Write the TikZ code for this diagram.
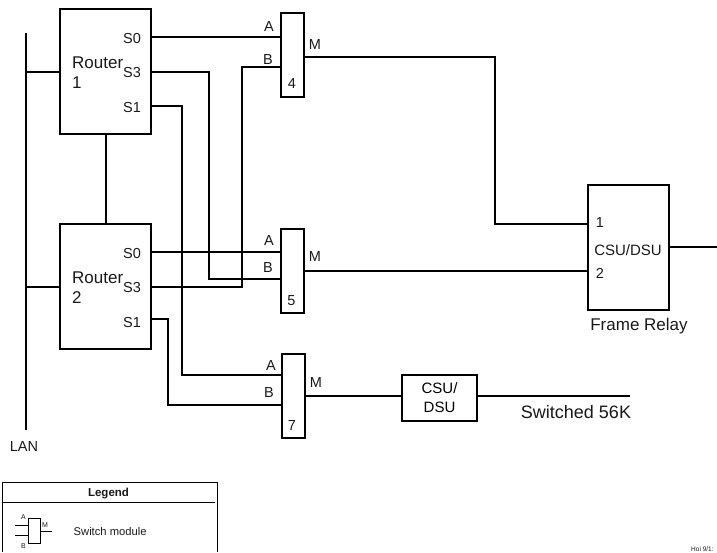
\documentclass[tikz,border=0pt]{standalone}
\usepackage{fontspec}
\setmainfont{Liberation Sans}
\usepackage{tikz}
\usetikzlibrary{positioning}

\begin{document}
\begin{tikzpicture}[
    x=1pt, y=-1pt,
    router/.style={rectangle, draw=black, line width=2pt, outer sep=0pt, minimum width=91pt, minimum height=125pt},
    switchbox/.style={rectangle, draw=black, line width=2pt, outer sep=0pt, minimum width=23pt, minimum height=84pt},
    csubig/.style={rectangle, draw=black, line width=2pt, outer sep=0pt, minimum width=81pt, minimum height=125pt},
    csusmall/.style={rectangle, draw=black, line width=2pt, outer sep=0pt, minimum width=75pt, minimum height=46pt, align=center, inner sep=0pt, font=\fontsize{15}{19}\selectfont},
    wire/.style={line width=2pt, draw=black},
    thinwire/.style={line width=1pt, draw=black},
    port/.style={inner sep=0pt, font=\fontsize{14.5}{17}\selectfont, text=black!90},
    title/.style={inner sep=0pt, font=\fontsize{17}{20}\selectfont, text=black!90, align=left},
    note/.style={inner sep=0pt, font=\fontsize{11.2}{13}\selectfont, text=black!90},
    tiny/.style={inner sep=0pt, font=\fontsize{7}{8}\selectfont, text=black!90},
  ]
  \useasboundingbox (0,0) rectangle (717,552);

  % Routers
  \node[router] (router1) at (105.5,71.5) {};
  \node[router, below=90pt of router1] (router2) {};
  \node[title, anchor=west] (router1txt) at (72,73) {Router\\1};
  \node[title, anchor=west] (router2txt) at (72,288) {Router\\2};

  % Switch modules
  \node[switchbox] (switch4) at (292.5,55) {};
  \node[switchbox, below=132pt of switch4] (switch5) {};
  \node[switchbox, below=41pt of switch5, xshift=1pt] (switch7) {};

  % CSU/DSU units
  \node[csubig] (csu1) at (628.5,247.5) {};
  \node[csusmall] (csu2) at (439.5,398) {CSU/\\DSU};

  % Router ports
  \node[port] (r1s0txt) at (132,39) {S0};
  \node[port] (r1s3txt) at (132,73) {S3};
  \node[port] (r1s1txt) at (132,108) {S1};
  \node[port] (r2s0txt) at (132,254) {S0};
  \node[port] (r2s3txt) at (132,288) {S3};
  \node[port] (r2s1txt) at (132,323) {S1};

  % Switch ports
  \node[port] (a4) at (269,27) {A};
  \node[port] (b4) at (268,60) {B};
  \node[port] (m4) at (315,45) {M};
  \node[port] (n4) at (292,84) {4};
  \node[port] (a5) at (269,241) {A};
  \node[port] (b5) at (268,268) {B};
  \node[port] (m5) at (315,257) {M};
  \node[port] (n5) at (291.5,301) {5};
  \node[port] (a7) at (271,366) {A};
  \node[port] (b7) at (269,393) {B};
  \node[port] (m7) at (316,383) {M};
  \node[port] (n7) at (292,426) {7};

  % Labels
  \node[port] (csu1a) at (600,223) {1};
  \node[port] (csu1b) at (600,273) {2};
  \node[port, font=\fontsize{15}{17}\selectfont] (csu1txt) at (628,250) {CSU/DSU};
  \node[title] (frame) at (639,326) {Frame Relay};
  \node[title, font=\fontsize{18}{20}\selectfont] (sw56) at (576,412) {Switched 56K};
  \node[port] (lan) at (24,447) {LAN};

  % Free ends
  \coordinate (lantop) at (25.7,33);
  \coordinate (lanend) at (25.7,430);
  \coordinate (r1s0) at (router1.east |- 0,37);
  \coordinate (r1s3) at (router1.east |- 0,72);
  \coordinate (r1s1) at (router1.east |- 0,106);
  \coordinate (r2s0) at (router2.east |- 0,252);
  \coordinate (r2s3) at (router2.east |- 0,287);
  \coordinate (r2s1) at (router2.east |- 0,319);
  \coordinate (bus1) at (182,0);
  \coordinate (bus2) at (168,0);
  \coordinate (bus3) at (209,0);
  \coordinate (bus4) at (242,0);
  \coordinate (bus5) at (495,0);
  \coordinate (s4a) at (switch4.west |- 0,37);
  \coordinate (s4b) at (switch4.west |- 0,67);
  \coordinate (s4m) at (switch4.east |- 0,57);
  \coordinate (s5a) at (switch5.west |- 0,252);
  \coordinate (s5b) at (switch5.west |- 0,279);
  \coordinate (s5m) at (switch5.east |- 0,271);
  \coordinate (s7a) at (switch7.west |- 0,375);
  \coordinate (s7b) at (switch7.west |- 0,405);
  \coordinate (c1a) at (csu1.west |- 0,224);
  \coordinate (c1b) at (csu1.west |- 0,271);
  \coordinate (c1out) at (717,247);
  \coordinate (c2in) at (csu2.west |- 0,396);
  \coordinate (c2mid) at (csu2.east |- 0,396);
  \coordinate (c2out) at (630,396);

  % LAN
  \draw[wire] (lantop) -- (lanend);
  \draw[wire] (lantop |- router1.west) -- (router1.west);
  \draw[wire] (lanend |- router2.west) -- (router2.west);
  \draw[wire] (router1) -- (router2);

  % Router to switch
  \draw[wire] (r1s0) -- (s4a);
  \draw[wire] (r1s3) -| (bus3 |- s5b) -- (s5b);
  \draw[wire] (r1s1) -| (bus1 |- s7a) -- (s7a);
  \draw[wire] (r2s0) -- (s5a);
  \draw[wire] (r2s3) -| (bus4 |- s4b) -- (s4b);
  \draw[wire] (r2s1) -| (bus2 |- s7b) -- (s7b);

  % Switch to CSU/DSU
  \draw[wire] (s4m) -| (bus5 |- c1a) -- (c1a);
  \draw[wire] (s5m) -- (c1b);
  \draw[wire] (switch7.east |- c2in) -- (c2in);
  \draw[wire] (c2mid) -- (c2out);
  \draw[wire] (csu1.east |- c1out) -- (c1out);

  % Legend
  \coordinate (legtl) at (2,482);
  \coordinate (legtr) at (217,482);
  \coordinate (legbl) at (2,552);
  \coordinate (legbr) at (217,552);
  \coordinate (legml) at (2,502);
  \coordinate (legmr) at (215,502);
  \draw[thinwire] (legbl) -- (legtl) -- (legtr) -- (legbr);
  \draw[thinwire] (legml) -- (legmr);
  \node[note, font=\fontsize{11.5}{13}\selectfont\bfseries] (legend) at (108.5,494) {Legend};
  \node[note, anchor=west] (switchtxt) at (73.5,531) {Switch module};

  % Legend symbol
  \node[rectangle, draw=black, line width=1pt, outer sep=0pt, minimum width=12pt, minimum height=25pt] (legsw) at (34,530.5) {};
  \coordinate (lega) at (15,525);
  \coordinate (legb) at (15,535.5);
  \coordinate (legm) at (52,531);
  \draw[thinwire] (lega) -- (legsw.west |- lega);
  \draw[thinwire] (legb) -- (legsw.west |- legb);
  \draw[thinwire] (legsw.east |- legm) -- (legm);
  \node[tiny] (legatxt) at (23.5,517) {A};
  \node[tiny] (legbtxt) at (23.5,546) {B};
  \node[tiny] (legmtxt) at (45,525) {M};

  % Stamp
  \node[inner sep=0pt, anchor=west, font=\fontsize{6.5}{8}\selectfont, text=black!90] (stamp) at (691,549) {Hoi 9/1:};
\end{tikzpicture}
\end{document}
